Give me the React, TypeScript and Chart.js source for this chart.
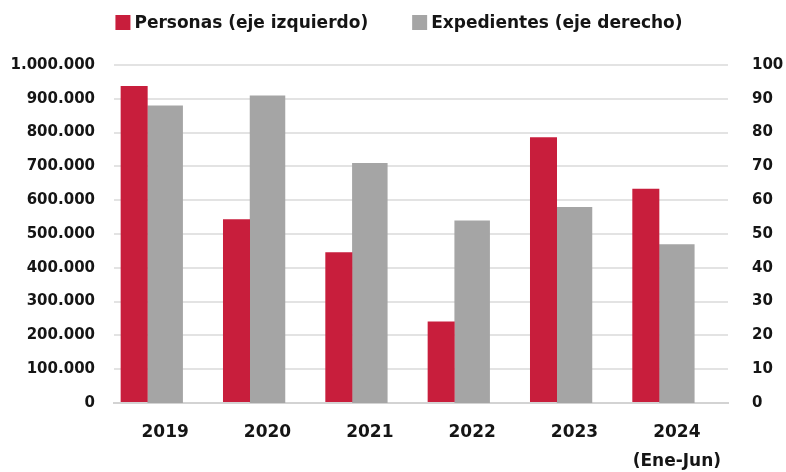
import { useEffect, useRef } from 'react';
import { Chart, registerables } from 'chart.js';

Chart.register(...registerables);

// ---- data ----
const categories: (string | string[])[] = ['2019', '2020', '2021', '2022', '2023', ['2024', '(Ene-Jun)']];
const personas = [938000, 544000, 446000, 241000, 786000, 634000];
const expedientes = [88, 91, 71, 54, 58, 47];
const seriesLabels = ['Personas (eje izquierdo)', 'Expedientes (eje derecho)'];
const seriesColors = ['#C81E3C', '#A5A5A5'];
const leftAxis = { min: 0, max: 1000000, step: 100000 };
const rightAxis = { min: 0, max: 100, step: 10 };

const FONT = '"DejaVu Sans", sans-serif';
const TEXT = '#151515';

const fmtThousands = (v: number) => String(Math.round(v)).replace(/\B(?=(\d{3})+(?!\d))/g, '.');

const legendPlugin = {
  id: 'customLegend',
  afterDraw(chart: any) {
    const ctx = chart.ctx as CanvasRenderingContext2D;
    const items = chart.data.datasets.filter((d: any) => d.label);
    ctx.save();
    ctx.font = `bold 17px ${FONT}`;
    ctx.textBaseline = 'middle';
    ctx.textAlign = 'left';
    const box = 15, gap = 4, itemGap = 44;
    const widths = items.map((d: any) => box + gap + ctx.measureText(d.label).width);
    const total = widths.reduce((a: number, b: number) => a + b, 0) + itemGap * (items.length - 1);
    let x = chart.width / 2 + 6 - total / 2;
    const cy = 22.5;
    items.forEach((d: any, i: number) => {
      ctx.fillStyle = d.backgroundColor;
      ctx.fillRect(x, cy - box / 2, box, box);
      ctx.fillStyle = TEXT;
      ctx.fillText(d.label, x + box + gap, cy + 1);
      x += widths[i] + itemGap;
    });
    ctx.restore();
  },
};

export default function App() {
  const ref = useRef<HTMLCanvasElement | null>(null);

  useEffect(() => {
    document.body.style.margin = '0';
    const canvas = ref.current;
    if (!canvas) return;
    Chart.defaults.font.family = FONT;
    const chart = new Chart(canvas, {
      type: 'bar',
      data: {
        labels: categories as any,
        datasets: [
          {
            label: seriesLabels[0],
            data: personas,
            backgroundColor: seriesColors[0],
            yAxisID: 'y',
            categoryPercentage: 0.909,
            barPercentage: 0.871,
            borderWidth: 0,
          },
          {
            label: seriesLabels[1],
            data: expedientes,
            backgroundColor: seriesColors[1],
            yAxisID: 'y1',
            categoryPercentage: 0.909,
            barPercentage: 1.145,
            borderWidth: 0,
          },
          {
            // spacer slot so the pair sits left of the category centre, as in the original
            label: '',
            data: categories.map(() => null),
            backgroundColor: 'rgba(0,0,0,0)',
            yAxisID: 'y',
            categoryPercentage: 0.909,
            barPercentage: 1,
          },
        ],
      } as any,
      options: {
        responsive: false,
        animation: false,
        events: [],
        layout: { padding: { top: 65, left: 0, right: 0, bottom: 0 } },
        plugins: {
          legend: { display: false },
          tooltip: { enabled: false },
          title: { display: false },
        },
        scales: {
          x: {
            grid: { display: false, drawTicks: false },
            border: { display: true, color: '#d3d3d3', width: 2 },
            ticks: {
              color: TEXT,
              font: { family: FONT, size: 17, weight: 'bold', lineHeight: 1.7 },
              padding: 15,
              maxRotation: 0,
              autoSkip: false,
            },
            afterFit: (s: any) => {
              s.height = 69;
            },
          },
          y: {
            position: 'left',
            min: leftAxis.min,
            max: leftAxis.max,
            grid: {
              color: (c: any) => (c.tick && c.tick.value === 0 ? '#d3d3d3' : '#e3e3e3'),
              lineWidth: 2,
              drawTicks: false,
            },
            border: { display: false },
            ticks: {
              stepSize: leftAxis.step,
              color: TEXT,
              font: { family: FONT, size: 15, weight: 'bold' },
              padding: 19,
              callback: (v: any) => fmtThousands(Number(v)),
            },
            afterFit: (s: any) => {
              s.width = 114;
            },
          },
          y1: {
            position: 'right',
            min: rightAxis.min,
            max: rightAxis.max,
            grid: { display: false, drawTicks: false },
            border: { display: false },
            ticks: {
              stepSize: rightAxis.step,
              color: TEXT,
              font: { family: FONT, size: 15, weight: 'bold' },
              padding: 24,
            },
            afterFit: (s: any) => {
              s.width = 58;
            },
          },
        },
      } as any,
      plugins: [legendPlugin],
    });
    return () => chart.destroy();
  }, []);

  return (
    <div style={{ position: 'fixed', left: 0, top: 0, width: 786, height: 472, background: '#fff' }}>
      <canvas ref={ref} width={786} height={472} style={{ display: 'block', width: 786, height: 472 }} />
    </div>
  );
}
